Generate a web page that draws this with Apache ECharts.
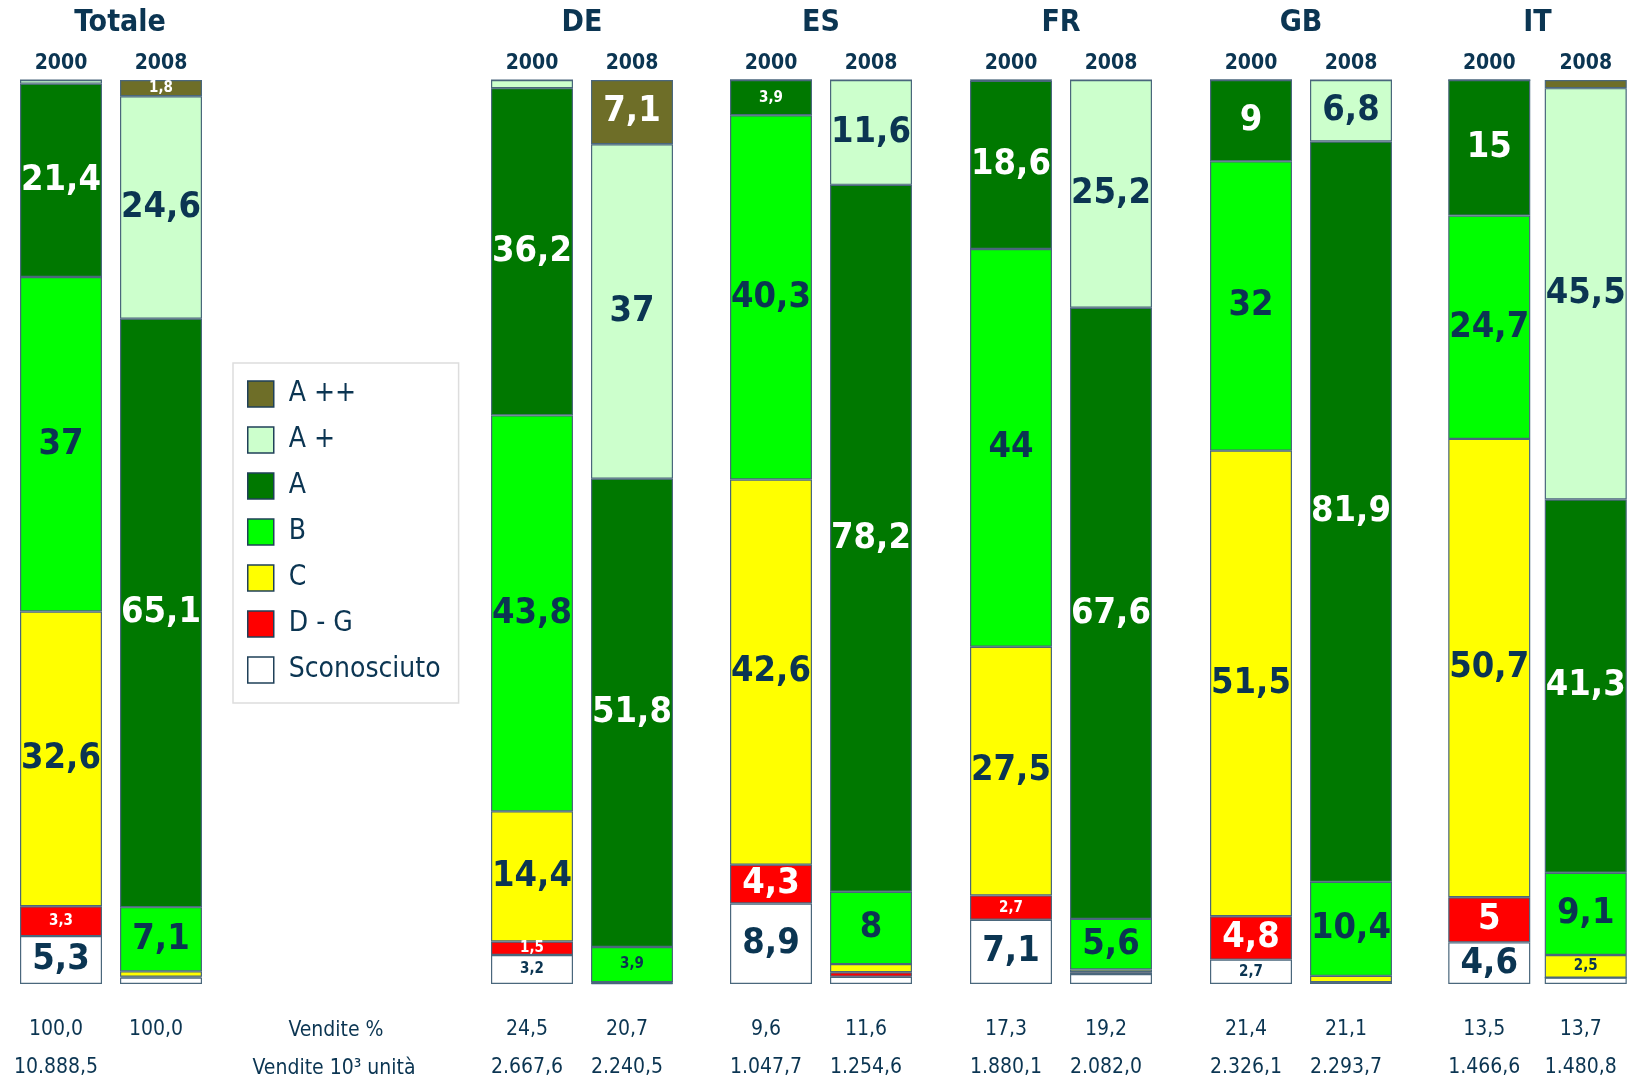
<!DOCTYPE html>
<html>
<head>
<meta charset="utf-8">
<title>Vendite per classe energetica</title>
<script src="https://cdn.jsdelivr.net/npm/echarts@6/dist/echarts.min.js"></script>
<style>
  html, body { margin: 0; padding: 0; background: #fff; }
  #chart { width: 1634px; height: 1081px; }
</style>
</head>
<body>
<div id="chart"></div>
<script>
// groups and years
const groups = ["Totale", "DE", "ES", "FR", "GB", "IT"];
const years = ["2000", "2008"];

// classes, bottom of the stack first
const classes = ["Sconosciuto", "D - G", "C", "B", "A", "A +", "A ++"];

// share of sales per class (%), one pair [2000, 2008] per group
const sconosciuto = [[5.3, 0.7], [3.2, 0.1], [8.9, 0.8], [7.1, 1.1], [2.7, 0.2], [4.6, 0.7]];
const classeDG    = [[3.3, 0.1], [1.5, 0.0], [4.3, 0.5], [2.7, 0.2], [4.8, 0.0], [5.0, 0.0]];
const classeC     = [[32.6, 0.6], [14.4, 0.1], [42.6, 0.9], [27.5, 0.3], [51.5, 0.7], [50.7, 2.5]];
const classeB     = [[37, 7.1], [43.8, 3.9], [40.3, 8], [44, 5.6], [32, 10.4], [24.7, 9.1]];
const classeA     = [[21.4, 65.1], [36.2, 51.8], [3.9, 78.2], [18.6, 67.6], [9, 81.9], [15, 41.3]];
const classeAplus = [[0.4, 24.6], [0.9, 37], [0, 11.6], [0.1, 25.2], [0, 6.8], [0, 45.5]];
const classeA2plus = [[0, 1.8], [0, 7.1], [0, 0], [0, 0], [0, 0], [0, 0.9]];

// bottom table
const salesPct = [["100,0", "100,0"], ["24,5", "20,7"], ["9,6", "11,6"], ["17,3", "19,2"], ["21,4", "21,1"], ["13,5", "13,7"]];
const salesUnits = [["10.888,5", "10.845,0"], ["2.667,6", "2.240,5"], ["1.047,7", "1.254,6"], ["1.880,1", "2.082,0"], ["2.326,1", "2.293,7"], ["1.466,6", "1.480,8"]];

const classData = [sconosciuto, classeDG, classeC, classeB, classeA, classeAplus, classeA2plus];
const classColors = ["#ffffff", "#ff0000", "#ffff00", "#00ff00", "#007800", "#ccffcc", "#6e6e28"];
const darkFill = [false, true, false, false, true, false, true];

const NAVY = "#0b3552";
const FONT = "'DejaVu Sans Condensed', 'DejaVu Sans', sans-serif";

// left edge of each group's grid (each grid holds two 100px bands)
const gridLeft = [11, 482, 721, 961, 1201, 1441];

const chart = echarts.init(document.getElementById("chart"));

const grid = [], xAxis = [], yAxis = [], series = [];

groups.forEach((g, gi) => {
  grid.push({ left: gridLeft[gi], width: 200, top: 80, bottom: 97 });

  // years on top, group name above them
  xAxis.push({
    type: "category", gridIndex: gi, position: "top", data: years,
    axisLine: { show: false }, axisTick: { show: false },
    axisLabel: { color: NAVY, fontFamily: FONT, fontWeight: "bold", fontSize: 21, margin: 6 },
    name: g, nameLocation: "middle", nameGap: 42,
    nameTextStyle: {
      color: NAVY, fontFamily: FONT, fontWeight: "bold", fontSize: 30,
      padding: gi === 0 ? [0, 0, 0, 18] : 0
    }
  });
  // sales rows below
  xAxis.push({
    type: "category", gridIndex: gi, position: "bottom", offset: 27, data: salesPct[gi],
    axisLine: { show: false }, axisTick: { show: false },
    axisLabel: { color: NAVY, fontFamily: FONT, fontSize: 21, margin: 8, padding: [0, 10, 0, 0] }
  });
  xAxis.push({
    type: "category", gridIndex: gi, position: "bottom", offset: 65, data: salesUnits[gi],
    axisLine: { show: false }, axisTick: { show: false },
    axisLabel: { color: NAVY, fontFamily: FONT, fontSize: 21, margin: 8, padding: [0, 10, 0, 0] }
  });
  yAxis.push({ type: "value", gridIndex: gi, min: 0, max: 100, show: false });

  classes.forEach((c, ci) => {
    series.push({
      type: "bar", name: c, stack: "g" + gi,
      xAxisIndex: gi * 3, yAxisIndex: gi,
      barWidth: 82,
      itemStyle: { color: classColors[ci], borderColor: "#4a677c", borderWidth: 1.2 },
      emphasis: { disabled: true },
      label: {
        position: "inside",
        fontFamily: FONT, fontWeight: "bold",
        color: darkFill[ci] ? "#ffffff" : NAVY
      },
      data: classData[ci][gi].map(v => ({
        value: v,
        label: { show: v >= 1.5, fontSize: v >= 4 ? 36 : 15 }
      }))
    });
  });
});

// formatted like 21,4
series.forEach(s => {
  s.label.formatter = p => String(p.value).replace(".", ",");
});

chart.setOption({
  animation: false,
  grid, xAxis, yAxis, series,
  legend: {
    data: classes.slice().reverse(),
    orient: "vertical",
    left: 233, top: 363,
    padding: [17, 18, 19, 14],
    itemWidth: 26, itemHeight: 26, itemGap: 18,
    icon: "rect",
    borderColor: "#dddddd", borderWidth: 1.5,
    selectedMode: false,
    itemStyle: { borderColor: "#1f4058", borderWidth: 1.5 },
    textStyle: { color: NAVY, fontFamily: FONT, fontSize: 28, lineHeight: 26, padding: [0, 0, 0, 10] }
  },
  graphic: [
    { type: "text", x: 336, y: 1031, style: { text: "Vendite %", fill: NAVY, font: "21px " + FONT, align: "center", verticalAlign: "middle" } },
    { type: "text", x: 334, y: 1069, style: { text: "Vendite 10³ unità", fill: NAVY, font: "21px " + FONT, align: "center", verticalAlign: "middle" } }
  ]
});
</script>
</body>
</html>
